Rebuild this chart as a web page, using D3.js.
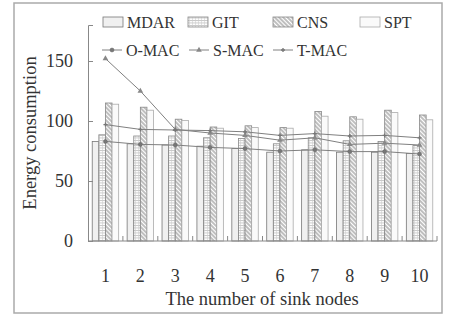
<!doctype html>
<html>
<head>
<meta charset="utf-8">
<script src="https://cdn.jsdelivr.net/npm/d3@7"></script>
<style>
body { margin: 0; background: #fff; }
svg text { font-family: "Liberation Serif", "Times New Roman", serif; fill: #333; }
</style>
</head>
<body>
<svg id="chart" width="454" height="319"></svg>
<script>
// data
var categories = ["1", "2", "3", "4", "5", "6", "7", "8", "9", "10"];
var barSeries = ["MDAR", "GIT", "CNS", "SPT"];
var mdar = [83, 81, 80, 79, 77, 74, 76, 74, 74, 73];
var git  = [88.5, 87.5, 87.5, 86, 85.5, 81, 86, 83.5, 83, 79.5];
var cns  = [115, 111.5, 101.5, 95, 96, 94.5, 108, 103.5, 109, 105];
var spt  = [114, 109, 100.5, 94, 94.5, 94, 104, 101.5, 107, 101];
var lineSeries = ["O-MAC", "S-MAC", "T-MAC"];
var omac = [83, 80.5, 80, 78, 77, 75, 76, 74.5, 74.5, 72.5];
var smac = [152, 125, 93, 90, 88, 84, 86, 80.5, 81.5, 80];
var tmac = [97, 93, 92.5, 92, 91, 88, 89.5, 87.5, 88, 86];
var yTicks = [0, 50, 100, 150];

var barValues = { "MDAR": mdar, "GIT": git, "CNS": cns, "SPT": spt };
var lineValues = { "O-MAC": omac, "S-MAC": smac, "T-MAC": tmac };

var svg = d3.select("#chart");

// patterns for the bar fills
var defs = svg.append("defs");
var pGit = defs.append("pattern").attr("id", "pGit")
    .attr("patternUnits", "userSpaceOnUse").attr("width", 3).attr("height", 2.5);
pGit.append("rect").attr("width", 3).attr("height", 2.5).attr("fill", "#fff");
pGit.append("line").attr("x1", 0).attr("y1", 0.5).attr("x2", 3).attr("y2", 0.5)
    .attr("stroke", "#aaa").attr("stroke-width", 0.7);
pGit.append("line").attr("x1", 0.5).attr("y1", 0).attr("x2", 0.5).attr("y2", 2.5)
    .attr("stroke", "#ccc").attr("stroke-width", 0.5);

var pCns = defs.append("pattern").attr("id", "pCns")
    .attr("patternUnits", "userSpaceOnUse").attr("width", 3).attr("height", 3)
    .attr("patternTransform", "rotate(45)");
pCns.append("rect").attr("width", 3).attr("height", 3).attr("fill", "#fff");
pCns.append("line").attr("x1", 0).attr("y1", 1).attr("x2", 3).attr("y2", 1)
    .attr("stroke", "#808080").attr("stroke-width", 1);

var fills = { "MDAR": "#f0f0f0", "GIT": "url(#pGit)", "CNS": "url(#pCns)", "SPT": "#fafafa" };
var strokes = { "MDAR": "#777", "GIT": "#888", "CNS": "#888", "SPT": "#aaa" };

// outer frame
svg.append("rect").attr("x", 14).attr("y", 3).attr("width", 428).attr("height", 310)
    .attr("fill", "none").attr("stroke", "#aaa").attr("stroke-width", 1.5);

// scales
var x0 = d3.scaleBand().domain(categories).range([88, 437]);
var x1 = d3.scaleBand().domain(barSeries).range([0, x0.bandwidth()]).paddingOuter(0.64);
var y = d3.scaleLinear().domain([0, 180]).range([241, 25]);

// bars
barSeries.forEach(function(s) {
  svg.append("g").selectAll("rect")
    .data(categories)
    .enter().append("rect")
      .attr("x", function(c) { return x0(c) + x1(s); })
      .attr("width", x1.bandwidth())
      .attr("y", function(c, i) { return y(barValues[s][i]); })
      .attr("height", function(c, i) { return y(0) - y(barValues[s][i]); })
      .attr("fill", fills[s])
      .attr("stroke", strokes[s])
      .attr("stroke-width", 0.8);
});

// axes
var yAxis = svg.append("g").attr("transform", "translate(88,0)")
    .call(d3.axisRight(y).tickValues(yTicks).tickSize(5).tickFormat(""));
yAxis.select(".domain").attr("stroke", "#888");
yAxis.selectAll(".tick line").attr("stroke", "#888");

svg.append("g").selectAll("text")
  .data(yTicks)
  .enter().append("text")
    .attr("x", 73).attr("y", function(d) { return y(d); })
    .attr("dy", "0.35em").attr("text-anchor", "end")
    .attr("font-size", 18).text(function(d) { return d; });

var xAxisG = svg.append("g").attr("transform", "translate(0,241)");
xAxisG.append("line").attr("x1", 88).attr("x2", 437).attr("stroke", "#888");
xAxisG.selectAll(".sep")
  .data(categories)
  .enter().append("line")
    .attr("x1", function(c) { return x0(c) + x0.bandwidth(); })
    .attr("x2", function(c) { return x0(c) + x0.bandwidth(); })
    .attr("y1", 0).attr("y2", -5).attr("stroke", "#888");

svg.append("g").selectAll("text")
  .data(categories)
  .enter().append("text")
    .attr("x", function(c) { return x0(c) + x0.bandwidth() / 2; })
    .attr("y", 276).attr("dy", "0.35em").attr("text-anchor", "middle")
    .attr("font-size", 18).text(function(c) { return c; });

svg.append("text").attr("x", 262).attr("y", 299).attr("dy", "0.35em")
    .attr("text-anchor", "middle").attr("font-size", 18.5)
    .text("The number of sink nodes");

svg.append("text").attr("transform", "translate(30,133) rotate(-90)")
    .attr("dy", "0.35em").attr("text-anchor", "middle").attr("font-size", 18.5)
    .text("Energy consumption");

// lines
var cx = function(c) { return x0(c) + x0.bandwidth() / 2; };
var line = d3.line().x(function(d) { return cx(d.c); }).y(function(d) { return y(d.v); });

function marker(g, s, px, py) {
  if (s === "O-MAC") {
    g.append("circle").attr("cx", px).attr("cy", py).attr("r", 2)
      .attr("fill", "#777").attr("stroke", "#666").attr("stroke-width", 0.5);
  } else if (s === "S-MAC") {
    g.append("path").attr("d", d3.symbol().type(d3.symbolTriangle).size(14)())
      .attr("transform", "translate(" + px + "," + py + ")")
      .attr("fill", "#888");
  } else {
    g.append("path").attr("d", d3.symbol().type(d3.symbolCross).size(9)())
      .attr("transform", "translate(" + px + "," + py + ")")
      .attr("fill", "#777");
  }
}

lineSeries.forEach(function(s) {
  var pts = categories.map(function(c, i) { return { c: c, v: lineValues[s][i] }; });
  var g = svg.append("g");
  g.append("path").datum(pts).attr("d", line)
    .attr("fill", "none").attr("stroke", "#808080").attr("stroke-width", 1);
  pts.forEach(function(p) { marker(g, s, cx(p.c), y(p.v)); });
});

// legend
var legBars = [{ s: "MDAR", x: 103 }, { s: "GIT", x: 188 }, { s: "CNS", x: 273 }, { s: "SPT", x: 360 }];
legBars.forEach(function(d) {
  svg.append("rect").attr("x", d.x).attr("y", 17).attr("width", 20).attr("height", 10)
    .attr("fill", fills[d.s]).attr("stroke", strokes[d.s]).attr("stroke-width", 0.8);
  svg.append("text").attr("x", d.x + 24).attr("y", 22).attr("dy", "0.35em")
    .attr("font-size", 16).text(d.s);
});
var legLines = [{ s: "O-MAC", x: 102 }, { s: "S-MAC", x: 189 }, { s: "T-MAC", x: 273 }];
legLines.forEach(function(d) {
  var g = svg.append("g");
  g.append("line").attr("x1", d.x).attr("x2", d.x + 20).attr("y1", 50).attr("y2", 50)
    .attr("stroke", "#808080");
  marker(g, d.s, d.x + 10, 50);
  svg.append("text").attr("x", d.x + 24).attr("y", 50).attr("dy", "0.35em")
    .attr("font-size", 16).text(d.s);
});
</script>
</body>
</html>
